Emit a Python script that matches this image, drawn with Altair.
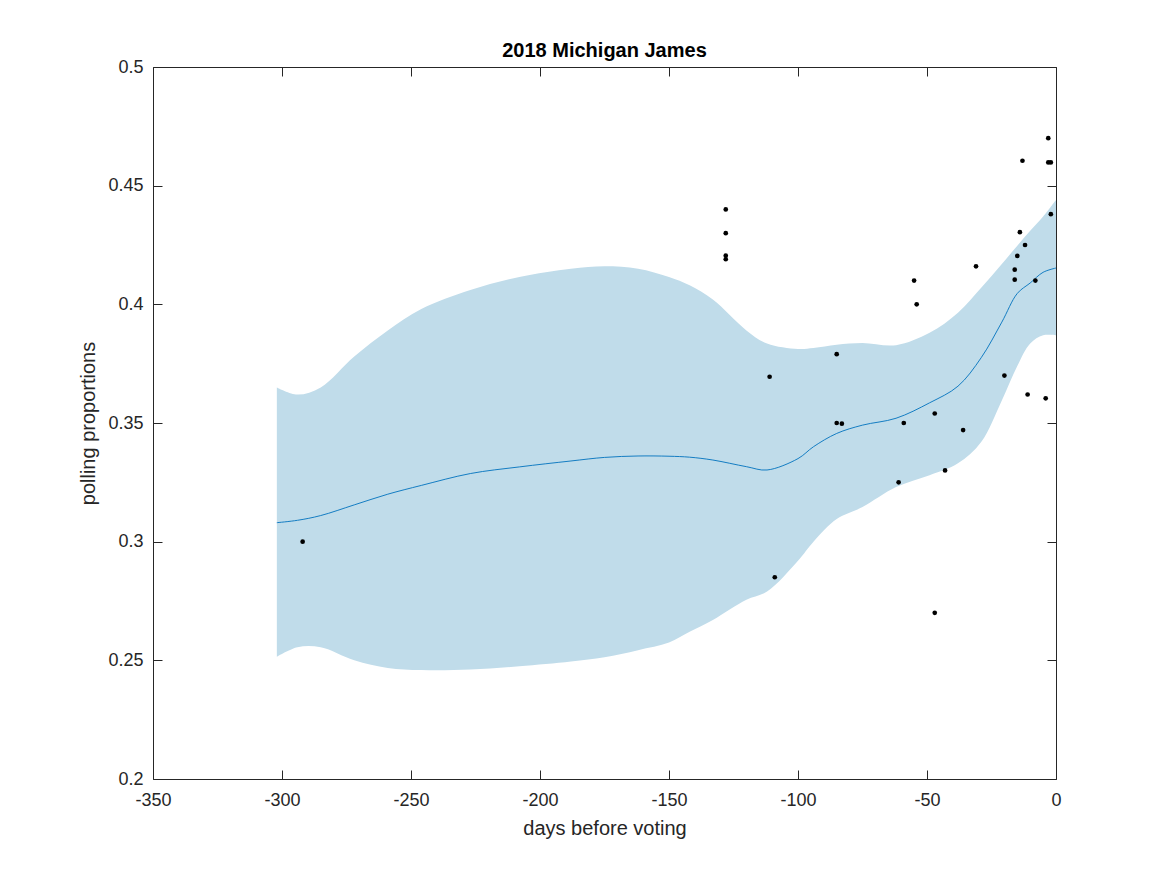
import altair as alt
import pandas as pd

# posterior band (days before voting)
band_days = [-302, -294, -285, -272, -259, -246, -227, -208, -188, -175, -162, -150, -142,
             -133, -120, -112, -100, -94, -85, -75, -62, -49, -38, -29, -21, -15, -10, -5, 0]
band_hi = [0.365, 0.362, 0.365, 0.378, 0.389, 0.398, 0.406, 0.4115, 0.415, 0.416, 0.415, 0.4115, 0.408,
           0.402, 0.389, 0.3835, 0.3812, 0.3816, 0.383, 0.3837, 0.3828, 0.388, 0.3965, 0.407, 0.417, 0.4247, 0.431, 0.437, 0.444]
band_mean = [0.308, 0.309, 0.311, 0.3155, 0.320, 0.3237, 0.3287, 0.3315, 0.334, 0.3355, 0.3361, 0.336, 0.3356,
             0.3344, 0.3316, 0.3302, 0.335, 0.340, 0.3456, 0.3491, 0.352, 0.3585, 0.3655, 0.3775, 0.3925, 0.4046, 0.409, 0.4135, 0.4153]
band_lo = [0.2515, 0.2555, 0.2555, 0.250, 0.2468, 0.2459, 0.2461, 0.2475, 0.2495, 0.2513, 0.2543, 0.2575, 0.262,
           0.267, 0.2755, 0.279, 0.292, 0.300, 0.3095, 0.3146, 0.323, 0.328, 0.333, 0.342, 0.3595, 0.374, 0.3835, 0.387, 0.387]

# individual polls
poll_days = [-292, -128, -128, -128, -128, -111, -109, -85, -85, -83, -61, -59, -55, -54, -47, -47,
             -43, -36, -31, -20, -16, -16, -15, -14, -13, -12, -11, -8, -4, -3, -3, -2, -2]
poll_vals = [0.300, 0.440, 0.430, 0.4205, 0.419, 0.3695, 0.285, 0.379, 0.350, 0.3497, 0.325, 0.350, 0.410, 0.400, 0.354, 0.270,
             0.330, 0.347, 0.416, 0.370, 0.4146, 0.4104, 0.4204, 0.4304, 0.4605, 0.425, 0.362, 0.410, 0.3604, 0.470, 0.4598, 0.4598, 0.438]

x_ticks = [-350, -300, -250, -200, -150, -100, -50, 0]
y_ticks = [0.2, 0.25, 0.3, 0.35, 0.4, 0.45, 0.5]

band = pd.DataFrame({'day': band_days, 'hi': band_hi, 'mean': band_mean, 'lo': band_lo})
polls = pd.DataFrame({'day': poll_days, 'val': poll_vals})

FONT = 'Liberation Sans'
INK = '#262626'
xs = alt.Scale(domain=[-350, 0], nice=False, zero=False)
ys = alt.Scale(domain=[0.2, 0.5], nice=False, zero=False)

# inward ticks: axis line pulled 9px into the plot, ticks reach back to the frame
tick_style = dict(domain=False, offset=-9, tickSize=9, tickColor=INK, tickWidth=1,
                  grid=False, labelFont=FONT, labelFontSize=18, labelColor=INK,
                  labelFlush=False, labelOverlap=False,
                  titleFont=FONT, titleFontSize=20, titleColor=INK, titleFontWeight='normal')

area = alt.Chart(band).mark_area(color='#c0dcea', interpolate='catmull-rom', opacity=1).encode(
    x=alt.X('day:Q', scale=xs,
            axis=alt.Axis(values=x_ticks, title='days before voting', orient='bottom',
                          labelExpr='toString(datum.value)', labelPadding=12, titlePadding=9, **tick_style)),
    y=alt.Y('lo:Q', scale=ys,
            axis=alt.Axis(values=y_ticks, title='polling proportions', orient='left',
                          format='~g', labelPadding=10, titlePadding=9, **tick_style)),
    y2='hi:Q'
)

line = alt.Chart(band).mark_line(color='#0072bd', strokeWidth=0.9, interpolate='catmull-rom').encode(
    x=alt.X('day:Q', scale=xs,
            axis=alt.Axis(values=x_ticks, orient='top', labels=False, title=None, **tick_style)),
    y=alt.Y('mean:Q', scale=ys,
            axis=alt.Axis(values=y_ticks, orient='right', labels=False, title=None, **tick_style))
)

points = alt.Chart(polls).mark_circle(color='black', size=22, opacity=1).encode(
    x=alt.X('day:Q', scale=xs, axis=None),
    y=alt.Y('val:Q', scale=ys, axis=None)
)

chart = alt.layer(area, line, points).resolve_axis(
    x='independent', y='independent'
).properties(
    width=903, height=712,
    padding={'left': 70, 'top': 33, 'right': 10, 'bottom': 10},
    title=alt.TitleParams('2018 Michigan James', font=FONT, fontSize=20, fontWeight='bold',
                          color='black', anchor='middle', offset=-3)
).configure_view(stroke=INK, strokeWidth=1)

chart.save("out.html", embed_options={"renderer": "svg", "actions": False})
